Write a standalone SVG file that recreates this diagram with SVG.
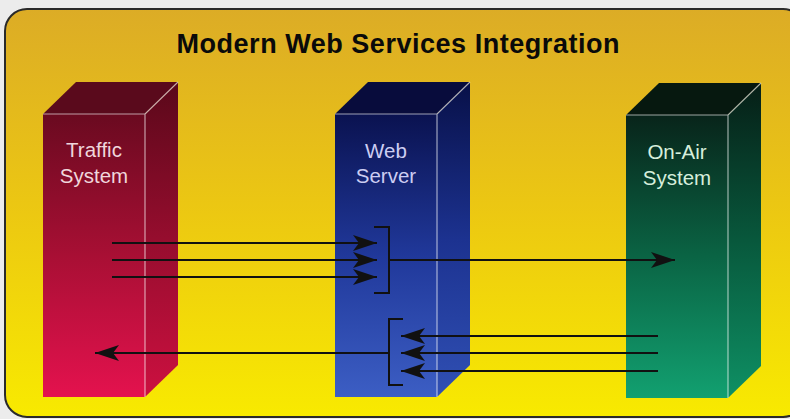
<svg xmlns="http://www.w3.org/2000/svg" width="790" height="419" viewBox="0 0 790 419">
  <defs>
    <linearGradient id="bg" x1="0" y1="0" x2="0" y2="1">
      <stop offset="0" stop-color="#dcac26"/>
      <stop offset="0.5" stop-color="#ecc812"/>
      <stop offset="1" stop-color="#f8ea00"/>
    </linearGradient>
    <linearGradient id="redF" x1="0" y1="0" x2="0" y2="1">
      <stop offset="0" stop-color="#6a0a20"/>
      <stop offset="0.5" stop-color="#a80f34"/>
      <stop offset="1" stop-color="#e4124e"/>
    </linearGradient>
    <linearGradient id="redS" x1="0" y1="0" x2="0" y2="1">
      <stop offset="0" stop-color="#5a081a"/>
      <stop offset="0.5" stop-color="#960d2e"/>
      <stop offset="1" stop-color="#cc1040"/>
    </linearGradient>
    <linearGradient id="blueF" x1="0" y1="0" x2="0" y2="1">
      <stop offset="0" stop-color="#0a1250"/>
      <stop offset="0.5" stop-color="#20389a"/>
      <stop offset="1" stop-color="#3c5ec4"/>
    </linearGradient>
    <linearGradient id="blueS" x1="0" y1="0" x2="0" y2="1">
      <stop offset="0" stop-color="#081048"/>
      <stop offset="0.5" stop-color="#1c3290"/>
      <stop offset="1" stop-color="#3050b4"/>
    </linearGradient>
    <linearGradient id="greenF" x1="0" y1="0" x2="0" y2="1">
      <stop offset="0" stop-color="#08241a"/>
      <stop offset="0.5" stop-color="#0a6444"/>
      <stop offset="1" stop-color="#12a070"/>
    </linearGradient>
    <linearGradient id="greenS" x1="0" y1="0" x2="0" y2="1">
      <stop offset="0" stop-color="#061e16"/>
      <stop offset="0.5" stop-color="#08583c"/>
      <stop offset="1" stop-color="#0e9064"/>
    </linearGradient>
    <marker id="ah" markerUnits="userSpaceOnUse" markerWidth="24" markerHeight="16" refX="24" refY="8" orient="auto">
      <path d="M0,0 L24,8 L0,16 L6,8 Z" fill="#111"/>
    </marker>
  </defs>
  <style>
    .lbl { font-family: "Liberation Sans", Arial, sans-serif; font-size: 20.5px; text-anchor: middle; }
    .edge { fill: none; stroke: #ffffff; stroke-opacity: 0.6; stroke-width: 1.2; }
    .conn { fill: none; stroke: #111; stroke-width: 2; }
  </style>

  <rect x="0" y="0" width="790" height="419" fill="#ececec"/>
  <rect id="panel" x="5" y="9" width="800" height="408" rx="22" fill="url(#bg)" stroke="#2a2a2a" stroke-width="2"/>

  <text x="398" y="53" font-family="'Liberation Sans', Arial, sans-serif" font-weight="bold" font-size="27" fill="#0a0a0a" text-anchor="middle" textLength="443" lengthAdjust="spacing">Modern Web Services Integration</text>

  <g id="traffic" transform="translate(43,114)">
    <polygon points="0,0 33,-32 135,-32 102,0" fill="#5a0a1c"/>
    <polygon points="102,0 135,-32 135,251 102,283" fill="url(#redS)"/>
    <rect x="0" y="0" width="102" height="283" fill="url(#redF)"/>
    <path class="edge" d="M0,0 H102 V283 M102,0 L135,-32"/>
    <text class="lbl" x="51" y="43" fill="#f0d6dc">Traffic</text>
    <text class="lbl" x="51" y="69" fill="#f0d6dc">System</text>
  </g>

  <g id="webserver" transform="translate(335,114)">
    <polygon points="0,0 33,-32 135,-32 102,0" fill="#080c3c"/>
    <polygon points="102,0 135,-32 135,251 102,283" fill="url(#blueS)"/>
    <rect x="0" y="0" width="102" height="283" fill="url(#blueF)"/>
    <path class="edge" d="M0,0 H102 V283 M102,0 L135,-32"/>
    <text class="lbl" x="51" y="44" fill="#cccdf2">Web</text>
    <text class="lbl" x="51" y="69" fill="#cccdf2">Server</text>
  </g>

  <g id="onair" transform="translate(626,115)">
    <polygon points="0,0 33,-32 135,-32 102,0" fill="#06180f"/>
    <polygon points="102,0 135,-32 135,251 102,283" fill="url(#greenS)"/>
    <rect x="0" y="0" width="102" height="283" fill="url(#greenF)"/>
    <path class="edge" d="M0,0 H102 V283 M102,0 L135,-32"/>
    <text class="lbl" x="51" y="44" fill="#d6eedc">On-Air</text>
    <text class="lbl" x="51" y="70" fill="#d6eedc">System</text>
  </g>

  <g id="connectors">
    <path class="conn" d="M112,243 H377" marker-end="url(#ah)"/>
    <path class="conn" d="M112,260 H377" marker-end="url(#ah)"/>
    <path class="conn" d="M112,277 H377" marker-end="url(#ah)"/>
    <path class="conn" d="M374,227 H389 V293 H374"/>
    <path class="conn" d="M389,260 H675" marker-end="url(#ah)"/>
    <path class="conn" d="M658,336 H401" marker-end="url(#ah)"/>
    <path class="conn" d="M658,353 H401" marker-end="url(#ah)"/>
    <path class="conn" d="M658,371 H401" marker-end="url(#ah)"/>
    <path class="conn" d="M403,319 H389 V385 H403"/>
    <path class="conn" d="M389,353 H95" marker-end="url(#ah)"/>
  </g>
</svg>
